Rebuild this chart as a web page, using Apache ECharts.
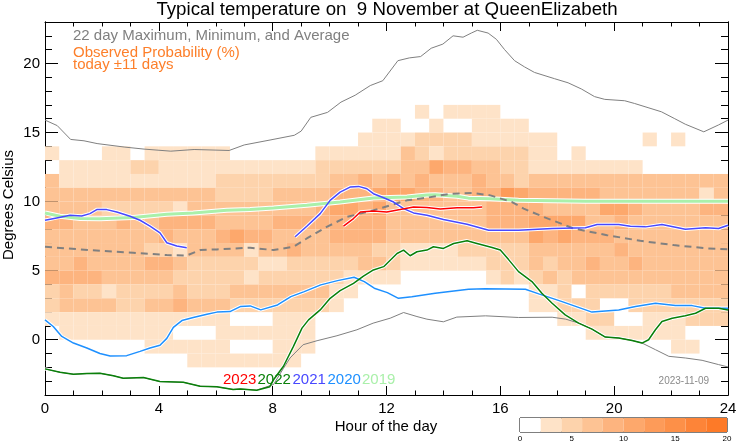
<!DOCTYPE html>
<html><head><meta charset="utf-8">
<script src="https://cdn.jsdelivr.net/npm/echarts@6/dist/echarts.min.js"></script>
<style>html,body{margin:0;padding:0;background:#fff}#c{width:742px;height:445px}</style>
</head><body><div id="c"></div>
<script>
// ---------- data ----------
const hourTicks = [0, 4, 8, 12, 16, 20, 24];
const tempTicks = [0, 5, 10, 15, 20];
const probTicks = [0, 5, 10, 15, 20];
const probBins = [0, 2, 4, 6, 8, 10, 12, 14, 16, 18, 20];
const levelColors = ['#ffffff','#fee3c8','#fdd3ac','#fdc394','#fdb47f','#fda86c','#fd9b59','#fd9048','#fd8438','#fd7a28'];
const colHourStep = 0.5;   // each column is half an hour
const rowTempStep = 1;     // each row is one degree

// observed probability (%) per half-hour column, one row per 1-degree band (bottom temperature)
const rowTemps = [16, 15, 14, 13, 12, 11, 10, 9, 8, 7, 6, 5, 4, 3, 2, 1, 0, -1, -2];
const probRows = [
 [0,0,0,0,0,0,0,0,0,0, 0,0,0,0,0,0,0,0,0,0, 0,0,0,0,0,0,3,0,3,3, 3,3,0,0,0,0,0,0,0,0, 0,0,0,0,0,0,0,0],
 [0,0,0,0,0,0,0,0,0,0, 0,0,0,0,0,0,0,0,0,0, 0,0,0,3,3,0,0,3,0,0, 3,3,3,3,0,0,0,0,0,0, 0,0,0,0,0,0,0,0],
 [0,0,0,0,0,0,0,0,0,0, 0,0,0,0,0,0,0,0,0,0, 0,0,3,3,3,3,5,5,5,5, 3,3,3,3,3,3,0,0,0,0, 0,0,3,0,3,0,0,0],
 [3,0,0,0,3,3,0,3,3,3, 3,3,3,0,0,0,0,0,0,3, 3,3,3,3,3,7,5,3,5,5, 5,5,5,5,3,3,0,3,0,0, 0,0,0,0,0,0,0,0],
 [0,3,3,3,3,3,5,5,3,3, 3,3,3,3,3,3,3,3,3,5, 5,5,5,5,5,7,7,11,9,9, 7,7,5,5,3,3,3,3,3,3, 3,3,0,0,0,0,0,0],
 [7,3,3,3,3,3,3,3,3,3, 3,3,5,5,5,5,5,5,5,5, 7,7,9,7,9,7,9,7,7,7, 9,7,7,5,7,7,7,7,7,7, 7,7,7,7,7,7,7,7],
 [7,7,7,7,7,7,7,7,7,7, 7,7,5,5,5,5,7,7,7,7, 9,9,9,11,11,11,9,9,7,7, 9,9,13,11,9,9,9,9,9,7, 7,7,7,7,7,7,3,7],
 [7,7,7,7,5,5,5,5,5,3, 7,7,7,7,7,7,7,7,7,9, 11,11,9,11,7,7,7,7,7,7, 7,9,9,9,9,7,7,7,7,11, 11,9,7,7,7,7,9,9],
 [9,9,7,7,7,9,7,7,9,9, 9,9,7,7,7,7,9,9,9,9, 9,9,9,9,7,7,7,7,7,7, 7,9,9,9,11,11,11,11,7,7, 9,7,7,7,7,7,7,7],
 [7,7,7,7,7,7,7,7,9,7, 7,7,9,11,9,9,7,7,7,7, 9,9,9,9,7,7,7,7,7,7, 7,7,7,7,11,9,11,9,9,9, 7,7,7,7,7,7,7,7],
 [7,7,7,7,7,7,7,5,5,3, 7,7,7,7,3,7,7,9,7,7, 7,7,7,5,5,3,3,3,3,5, 5,5,5,5,7,7,7,7,7,7, 9,7,7,7,7,7,7,7],
 [7,7,9,7,7,7,7,9,9,7, 5,5,5,5,5,3,3,5,5,5, 5,5,7,7,5,3,3,3,3,3, 3,5,5,5,7,5,7,7,9,7, 7,9,7,7,7,7,7,7],
 [9,9,9,9,7,7,7,7,7,5, 5,5,5,5,3,5,5,5,5,5, 5,3,3,3,3,0,0,0,0,0, 0,3,5,3,5,7,5,7,7,7, 7,7,7,7,7,7,7,7],
 [5,7,5,5,3,5,5,5,5,7, 5,5,5,7,7,7,7,7,7,7, 3,3,0,0,0,0,0,0,0,0, 0,0,0,0,3,3,5,0,5,5, 5,5,5,5,7,7,7,7],
 [5,7,7,7,7,5,5,7,7,9, 7,7,7,5,5,5,5,5,5,5, 3,0,0,0,0,0,0,0,0,0, 0,0,0,0,3,3,5,5,5,0, 0,5,5,5,5,5,5,5],
 [3,3,3,3,3,3,3,3,3,3, 3,3,3,0,0,0,3,3,3,0, 0,0,0,0,0,0,0,0,0,0, 0,0,0,0,0,0,3,3,5,5, 0,0,3,3,3,5,5,5],
 [0,3,3,3,3,3,3,3,3,0, 0,0,3,3,3,3,3,3,3,0, 0,0,0,0,0,0,0,0,0,0, 0,0,0,0,0,0,0,0,3,3, 3,3,3,3,3,0,0,0],
 [0,0,0,0,0,0,0,3,3,3, 3,3,3,0,0,0,3,3,3,0, 0,0,0,0,0,0,0,0,0,0, 0,0,0,0,0,0,0,0,0,0, 0,0,0,0,3,3,0,0],
 [0,0,0,0,0,0,0,0,0,0, 3,3,3,3,3,3,3,3,0,0, 0,0,0,0,0,0,0,0,0,0, 0,0,0,0,0,0,0,0,0,0, 0,0,0,0,0,0,0,0]
];

// 22-day maximum
const maxHours = [0,0.43,0.9,1.37,1.83,2.78,3.48,4.42,5.24,6.47,7.0,7.94,8.76,9.0,9.34,9.93,10.4,10.9,11.43,11.87,12.4,12.8,13.2,13.57,13.98,14.34,14.69,14.98,15.19,15.57,15.86,16.15,16.5,16.85,17.2,17.9,18.38,18.85,19.31,19.67,20.37,20.72,21.19,21.66,22.13,22.5,23.15,23.67,24];
const maxTemps = [15.9,15.5,14.5,14.4,14.2,13.95,13.8,13.65,13.77,13.7,14.1,14.47,14.8,15.1,16.1,16.46,17.2,17.7,18.4,18.75,20.2,20.4,20.5,21.1,21.4,22.0,21.9,22.2,22.4,22.2,21.75,21.0,20.2,19.75,19.35,18.9,18.6,18.15,17.6,17.4,17.3,17.1,16.8,16.5,16.0,15.6,15.05,15.55,15.9];
// 22-day minimum
const minHours = [0,0.53,1.0,1.47,1.93,2.4,2.75,3.46,4.04,4.86,5.45,6.04,6.61,6.86,7.44,8.03,8.37,8.61,9.07,9.56,10.26,10.96,11.53,12.13,12.6,13.07,13.42,14.0,14.47,15.48,16.64,17.82,18.3,18.76,19.22,19.69,20.16,20.63,20.98,21.45,21.92,22.5,23.09,23.67,24];
const minTemps = [-2.11,-2.36,-2.5,-2.45,-2.43,-2.6,-2.79,-2.74,-3.03,-3.08,-3.36,-3.41,-3.6,-3.56,-3.65,-3.24,-2.1,-1.32,-0.36,-0.07,0.29,0.72,1.2,1.56,1.97,1.68,1.49,1.3,1.64,1.73,1.61,1.63,1.49,1.2,0.77,0.19,0.12,-0.05,-0.24,-0.72,-1.2,-1.32,-1.49,-1.8,-1.97];
// 22-day average
const avgHours = [0,0.76,1.93,3.1,4.28,4.98,5.45,6.04,7.21,8.03,8.73,9.2,9.9,10.61,11.54,12.13,12.72,13.42,14.24,15.06,15.65,16.41,16.82,17.52,18.58,19.75,20.92,22.09,23.27,24];
const avgTemps = [6.73,6.61,6.44,6.3,6.13,6.1,6.49,6.54,6.66,6.49,6.73,7.33,8.17,8.89,9.37,9.73,10.09,10.28,10.57,10.62,10.45,9.97,9.49,8.89,8.05,7.57,7.16,6.85,6.61,6.54];

// individual years
const y2019Hours = [0,0.53,1.23,1.93,3.1,4.28,5.21,6.39,7.21,8.03,9.2,10.37,11.54,12.72,13.42,13.71,14.48,14.88,15.65,16.64,18.99,21.33,24];
const y2019Temps = [9.18,8.94,8.77,8.75,8.85,9.08,9.18,9.37,9.42,9.54,9.73,9.97,10.26,10.33,10.48,10.5,10.38,10.25,10.2,10.09,10.02,10.02,10.02];
const y2020Hours = [0,0.29,0.59,1.0,1.47,1.93,2.29,2.87,3.34,3.69,4.04,4.28,4.51,4.81,5.21,5.69,6.04,6.5,6.86,7.21,7.58,8.17,8.64,9.11,9.69,10.28,10.86,11.22,11.57,12.03,12.42,12.89,13.71,14.88,15.47,16.88,17.35,18.17,19.22,20.16,20.75,21.45,22.15,22.74,23.21,24];
const y2020Temps = [1.44,0.96,0.24,-0.24,-0.6,-1.0,-1.17,-1.15,-0.84,-0.6,-0.4,0.1,0.9,1.39,1.61,1.85,2.0,2.04,2.4,2.45,2.16,2.52,3.12,3.48,3.97,4.28,4.52,4.21,3.73,3.41,3.0,3.12,3.36,3.65,3.7,3.65,3.32,2.76,2.0,2.16,2.4,2.64,2.47,2.47,2.28,2.28];
const y2021aHours = [0,0.41,0.88,1.29,1.58,1.82,2.17,2.52,2.99,3.34,3.69,4.04,4.28,4.63,4.98];
const y2021aTemps = [8.65,8.82,9.01,8.96,9.13,9.42,9.42,9.25,8.94,8.65,8.22,7.74,7.02,6.78,6.66];
const y2021bHours = [8.79,9.2,9.67,10.02,10.37,10.72,11.02,11.31,11.54,11.9,12.25,12.6,12.95,13.42,14.0,14.83,15.59,16.64,17.82,18.99,19.4,20.16,20.57,21.1,21.68,22.5,23.21,23.67,24];
const y2021bTemps = [7.45,8.22,9.13,10.09,10.69,11.05,11.1,10.93,10.57,10.28,9.97,9.49,9.18,9.01,8.7,8.36,7.93,7.93,8.05,8.1,8.34,8.34,8.22,8.17,8.34,8.0,8.1,8.05,8.29];
const y2022Hours = [0,0.53,1.0,1.47,1.93,2.4,2.75,3.46,4.04,4.86,5.45,6.04,6.61,6.86,7.44,7.9,8.03,8.38,8.73,9.03,9.26,9.67,10.02,10.37,10.84,11.19,11.54,11.9,12.37,12.6,12.83,13.07,13.42,13.65,14.0,14.36,14.83,15.18,15.71,16.0,16.29,16.64,17.11,17.46,17.82,18.28,18.75,19.22,19.69,20.16,20.63,20.98,21.21,21.45,21.68,22.04,22.5,22.86,23.21,23.67,24];
const y2022Temps = [-2.11,-2.36,-2.5,-2.45,-2.43,-2.6,-2.79,-2.74,-3.03,-3.08,-3.36,-3.41,-3.6,-3.56,-3.65,-3.4,-2.9,-1.92,-0.48,0.84,1.44,2.16,3.0,3.55,4.08,4.6,5.05,5.29,6.24,6.49,6.08,6.37,6.49,6.73,6.61,6.97,7.16,6.97,6.68,6.49,5.8,4.93,4.21,3.36,2.64,1.8,1.2,0.77,0.19,0.12,-0.05,-0.24,0.0,0.72,1.32,1.56,1.73,1.92,2.28,2.28,2.16];
const y2023Hours = [10.49,10.84,11.08,11.54,12.01,12.48,12.95,13.42,13.89,14.48,15.06,15.36];
const y2023Temps = [8.22,8.77,9.25,9.32,9.25,9.42,9.61,9.58,9.47,9.55,9.56,9.61];

const yearLabels = ['2023', '2022', '2021', '2020', '2019'];

// ---------- build ----------
const FONT = '"Liberation Sans", Arial, Helvetica, sans-serif';
const pairs = (hs, ts) => hs.map((h, i) => [h, ts[i]]);

const heatData = [];
rowTemps.forEach((t, r) => {
  probRows[r].forEach((v, c) => { if (v >= probBins[1]) heatData.push([c * colHourStep, t, v]); });
});
const barData = levelColors.map((col, i) => [probBins[i], probBins[i + 1], (probBins[i] + probBins[i + 1]) / 2]);

function lineSeries(data, color, width, halo, extra) {
  const out = [];
  if (halo) {
    out.push({ type: 'line', data, xAxisIndex: 0, yAxisIndex: 0, showSymbol: false, symbol: 'none', silent: true,
      lineStyle: { color: '#ffffff', width: width + 2 }, z: 3 });
  }
  out.push(Object.assign({ type: 'line', data, xAxisIndex: 0, yAxisIndex: 0, showSymbol: false, symbol: 'none', silent: true,
    lineStyle: { color, width }, z: 4 }, extra || {}));
  return out;
}

const series = [
  {
    type: 'custom', xAxisIndex: 0, yAxisIndex: 0, data: heatData, clip: true, z: 1,
    encode: { x: 0, y: 1 },
    renderItem: function (params, api) {
      const h = api.value(0), t = api.value(1);
      const a = api.coord([h, t + rowTempStep]);
      const b = api.coord([h + colHourStep, t]);
      return { type: 'rect', shape: { x: a[0], y: a[1], width: b[0] - a[0], height: b[1] - a[1] },
        style: { fill: api.visual('color') } };
    }
  },
  {
    type: 'custom', xAxisIndex: 2, yAxisIndex: 4, data: barData, z: 1,
    encode: { x: [0, 1] },
    renderItem: function (params, api) {
      const a = api.coord([api.value(0), 1]);
      const b = api.coord([api.value(1), 0]);
      return { type: 'rect', shape: { x: a[0], y: a[1], width: b[0] - a[0], height: b[1] - a[1] },
        style: { fill: api.visual('color') } };
    }
  }
];
series.push(...lineSeries(pairs(maxHours, maxTemps), '#808080', 1, false));
series.push(...lineSeries(pairs(minHours, minTemps), '#808080', 1, false));
series.push(...lineSeries(pairs(y2019Hours, y2019Temps), '#aaf0aa', 3, true));
series.push(...lineSeries(pairs(avgHours, avgTemps), '#808080', 2, false, { lineStyle: { color: '#808080', width: 2, type: [7, 5] } }));
series.push(...lineSeries(pairs(y2020Hours, y2020Temps), '#1e90ff', 1.5, true));
series.push(...lineSeries(pairs(y2021aHours, y2021aTemps), '#4848ff', 1.5, true));
series.push(...lineSeries(pairs(y2021bHours, y2021bTemps), '#4848ff', 1.5, true));
series.push(...lineSeries(pairs(y2022Hours, y2022Temps), '#0a800a', 1.5, true));
series.push(...lineSeries(pairs(y2023Hours, y2023Temps), '#ff0000', 1.5, true));

const axLine = { show: true, onZero: false, lineStyle: { color: '#000', width: 1 } };
const xBase = {
  type: 'value', gridIndex: 0, min: hourTicks[0], max: hourTicks[hourTicks.length - 1], interval: hourTicks[1] - hourTicks[0],
  axisLine: axLine, splitLine: { show: false },
  axisTick: { show: true, inside: true, length: 9, lineStyle: { color: '#000' } },
  minorTick: { show: true, splitNumber: 4, length: 4.5, lineStyle: { color: '#000' } },
  minorSplitLine: { show: false }
};
const yMajor = {
  type: 'value', gridIndex: 0, min: -4, max: 23,
  axisLine: axLine, splitLine: { show: false },
  axisTick: { show: true, inside: true, length: 13, customValues: tempTicks, lineStyle: { color: '#000' } },
  axisLabel: { show: true, customValues: tempTicks, fontSize: 15, fontFamily: FONT, color: '#000', margin: 5 }
};
const yMinor = {
  type: 'value', gridIndex: 0, min: -4, max: 23, interval: 1,
  axisLine: axLine, splitLine: { show: false },
  axisTick: { show: true, inside: true, length: 7, lineStyle: { color: '#000' } },
  axisLabel: { show: false }
};

const option = {
  animation: false,
  backgroundColor: '#ffffff',
  grid: [
    { left: 45, top: 22, width: 683, height: 373, show: false },
    { left: 520, top: 418, width: 207, height: 14, show: true, borderColor: '#000', borderWidth: 1, backgroundColor: 'transparent' }
  ],
  xAxis: [
    Object.assign({}, xBase, { position: 'bottom',
      axisLabel: { show: true, fontSize: 15, fontFamily: FONT, color: '#000', margin: 6 } }),
    Object.assign({}, xBase, { position: 'top', axisLabel: { show: false } }),
    { type: 'value', gridIndex: 1, min: probTicks[0], max: probTicks[probTicks.length - 1], interval: probTicks[1] - probTicks[0],
      axisLine: { show: false }, axisTick: { show: false }, splitLine: { show: false },
      axisLabel: { fontSize: 8, fontFamily: FONT, color: '#000', margin: 3 } }
  ],
  yAxis: [
    Object.assign({}, yMajor, { position: 'left' }),
    Object.assign({}, yMinor, { position: 'left' }),
    Object.assign({}, yMajor, { position: 'right', axisLabel: { show: false } }),
    Object.assign({}, yMinor, { position: 'right' }),
    { type: 'value', gridIndex: 1, min: 0, max: 1, show: false }
  ],
  visualMap: {
    type: 'piecewise', show: false, dimension: 2, seriesIndex: [0, 1],
    pieces: levelColors.map((c, i) => ({ gte: probBins[i], lt: probBins[i + 1], color: c }))
  },
  series,
  graphic: [
    { type: 'text', x: 387, y: 10, z: 100, style: { text: 'Typical temperature on  9 November at QueenElizabeth', font: '18.7px ' + FONT, fill: '#000', textAlign: 'center', textVerticalAlign: 'middle' } },
    { type: 'text', x: 73, y: 35.5, z: 100, style: { text: '22 day Maximum, Minimum, and Average', font: '15px ' + FONT, fill: '#808080', textAlign: 'left', textVerticalAlign: 'middle' } },
    { type: 'text', x: 73, y: 52.5, z: 100, style: { text: 'Observed Probability (%)', font: '15px ' + FONT, fill: '#fd7f2a', textAlign: 'left', textVerticalAlign: 'middle' } },
    { type: 'text', x: 73, y: 64.5, z: 100, style: { text: 'today \u00b111 days', font: '15px ' + FONT, fill: '#fd7f2a', textAlign: 'left', textVerticalAlign: 'middle' } },
    { type: 'text', x: 9, y: 205, rotation: Math.PI / 2, z: 100, style: { text: 'Degrees Celsius', font: '15px ' + FONT, fill: '#000', textAlign: 'center', textVerticalAlign: 'middle' } },
    { type: 'text', x: 386, y: 427, z: 100, style: { text: 'Hour of the day', font: '15px ' + FONT, fill: '#000', textAlign: 'center', textVerticalAlign: 'middle' } },
    { type: 'text', x: 223, y: 379.5, z: 100, style: { text: yearLabels[0], font: '15px ' + FONT, fill: '#ff0000', textAlign: 'left', textVerticalAlign: 'middle' } },
    { type: 'text', x: 257.5, y: 379.5, z: 100, style: { text: yearLabels[1], font: '15px ' + FONT, fill: '#0a800a', textAlign: 'left', textVerticalAlign: 'middle' } },
    { type: 'text', x: 292.5, y: 379.5, z: 100, style: { text: yearLabels[2], font: '15px ' + FONT, fill: '#4848ff', textAlign: 'left', textVerticalAlign: 'middle' } },
    { type: 'text', x: 327.5, y: 379.5, z: 100, style: { text: yearLabels[3], font: '15px ' + FONT, fill: '#1e90ff', textAlign: 'left', textVerticalAlign: 'middle' } },
    { type: 'text', x: 362, y: 379.5, z: 100, style: { text: yearLabels[4], font: '15px ' + FONT, fill: '#aaf0aa', textAlign: 'left', textVerticalAlign: 'middle' } },
    { type: 'text', x: 709, y: 381, z: 100, style: { text: '2023\u201111\u201109', font: '10px ' + FONT, fill: '#8a8a8a', textAlign: 'right', textVerticalAlign: 'middle' } }
  ]
};

const chart = echarts.init(document.getElementById('c'), null, { renderer: 'canvas', width: 742, height: 445 });
chart.setOption(option);
</script>
</body></html>
